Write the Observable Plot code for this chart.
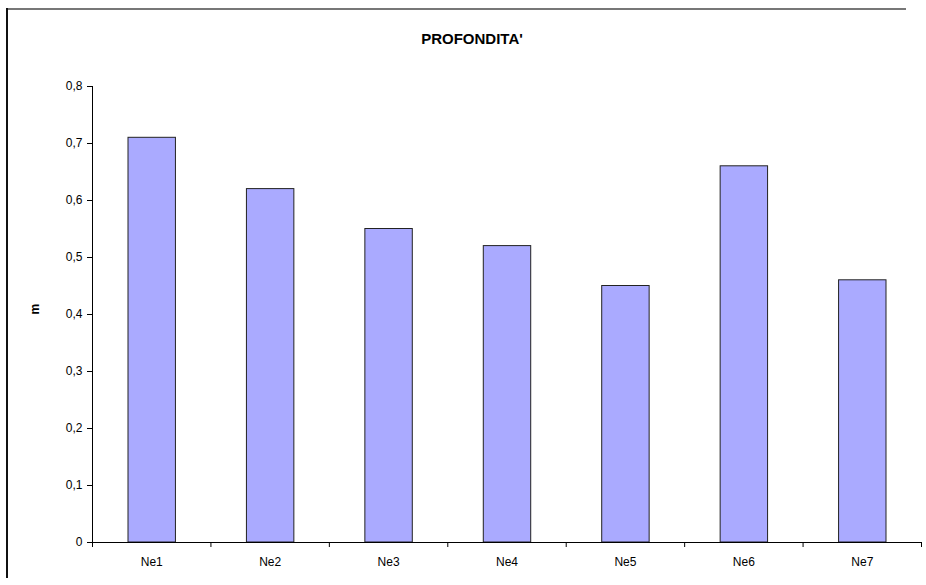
<!DOCTYPE html>
<html>
<head>
<meta charset="utf-8">
<script src="https://cdn.jsdelivr.net/npm/d3@7"></script>
<script src="https://cdn.jsdelivr.net/npm/@observablehq/plot@0.6"></script>
<style>
  html, body { margin: 0; padding: 0; background: #fff; overflow: hidden; }
  #wrap { position: relative; width: 926px; height: 585px; overflow: hidden; background: #fff; font-family: "Liberation Sans", Arial, sans-serif; }
  #topline { position: absolute; left: 6px; top: 8px; width: 900px; height: 2px; background: #777; }
  #leftline { position: absolute; left: 6px; top: 8px; width: 2px; height: 570px; background: #111; }
  #title { position: absolute; top: 30px; left: 372px; width: 200px; text-align: center; font-weight: bold; font-size: 15px; color: #000; }
  #chart { position: absolute; left: 0; top: 0; }
  #chart svg { display: block; }
</style>
</head>
<body>
<div id="wrap">
  <div id="topline"></div>
  <div id="leftline"></div>
  <div id="chart"></div>
  <div id="title">PROFONDITA'</div>
</div>
<script>
const categories = ["Ne1", "Ne2", "Ne3", "Ne4", "Ne5", "Ne6", "Ne7"];
const values = [0.71, 0.62, 0.55, 0.52, 0.45, 0.66, 0.46];
const yTicks = [0, 0.1, 0.2, 0.3, 0.4, 0.5, 0.6, 0.7, 0.8];
const yTickLabels = ["0", "0,1", "0,2", "0,3", "0,4", "0,5", "0,6", "0,7", "0,8"];
const yLabel = "m";

const data = categories.map((c, i) => ({c, i, v: values[i]}));
const boundaries = d3.range(categories.length + 1);

const chart = Plot.plot({
  width: 926,
  height: 585,
  marginLeft: 92,
  marginRight: 5,
  marginTop: 86,
  marginBottom: 43,
  style: {fontFamily: "'Liberation Sans', Arial, sans-serif", fontSize: "12px", color: "#000", background: "transparent", overflow: "hidden"},
  x: {domain: [0, categories.length], axis: null},
  y: {domain: [0, 0.8], axis: null},
  marks: [
    Plot.rectY(data, {x1: "i", x2: d => d.i + 1, y1: 0, y2: "v", insetLeft: 36, insetRight: 35, fill: "#AAAAFF", stroke: "#222", strokeWidth: 1}),
    Plot.axisY({ticks: yTicks, tickFormat: (d, i) => yTickLabels[i], tickSize: 5, tickPadding: 5, label: null, stroke: "#000"}),
    Plot.text([yLabel], {frameAnchor: "left", text: d => d, rotate: -90, dx: -57, fontWeight: "bold", fontSize: 12}),
    Plot.axisX({ticks: boundaries, tickFormat: () => "", tickSize: 5, label: null, stroke: "#000"}),
    Plot.ruleX([0], {stroke: "#000"}),
    Plot.ruleY([0], {stroke: "#000"}),
    Plot.text(data, {x: d => d.i + 0.5, y: 0, text: "c", dy: 20, fontSize: 12, fill: "#000"})
  ]
});
document.getElementById("chart").appendChild(chart);
</script>
</body>
</html>
